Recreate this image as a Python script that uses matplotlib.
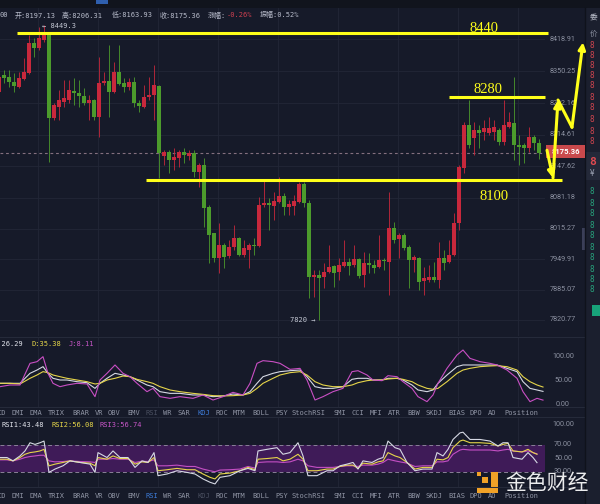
import matplotlib
matplotlib.use("Agg")
import numpy as np
import matplotlib.pyplot as plt
from matplotlib.patches import Rectangle

# candles, left to right (red = up, green = down)
opens = [8306, 8342, 8338, 8327, 8317, 8334, 8346, 8410, 8400, 8417,
         8432, 8251, 8274, 8285, 8289, 8308, 8304, 8298, 8283, 8289,
         8253, 8325, 8330, 8306, 8349, 8325, 8317, 8327, 8283, 8274,
         8295, 8300, 8319, 8170, 8178, 8161, 8166, 8178, 8170, 8176,
         8136, 8151, 8061, 8006, 7953, 7980, 7957, 7976, 7995, 7959,
         7970, 7980, 7978, 8065, 8070, 8063, 8072, 8085, 8061, 8063,
         8072, 8110, 8070, 7912, 7916, 7912, 7923, 7935, 7923, 7935,
         7944, 7938, 7950, 7916, 7942, 7938, 7933, 7948, 7944, 8016,
         7993, 8002, 7976, 7948, 7953, 7904, 7906, 7912, 7906, 7953,
         7944, 7959, 8027, 8144, 8236, 8208, 8225, 8221, 8219, 8221,
         8225, 8200, 8231, 8240, 8193, 8193, 8187, 8210, 8197.13]
highs = [8342, 8353, 8353, 8346, 8349, 8378, 8427, 8421, 8445, 8449.3,
         8434, 8283, 8310, 8332, 8332, 8336, 8332, 8315, 8300, 8291,
         8381, 8349, 8406, 8370, 8406, 8336, 8336, 8338, 8289, 8321,
         8338, 8363, 8321, 8183, 8183, 8187, 8183, 8187, 8183, 8183,
         8155, 8166, 8065, 8006, 8027, 7984, 7991, 8023, 7997, 7991,
         7984, 7995, 8082, 8119, 8080, 8093, 8125, 8091, 8076, 8087,
         8114, 8114, 8076, 7927, 7927, 7942, 7980, 7938, 7953, 7991,
         7953, 7980, 7953, 7965, 7963, 7948, 8002, 7953, 8093, 8029,
         8006, 8006, 7980, 7959, 7955, 7933, 7938, 7944, 7987, 7970,
         7991, 8048, 8151, 8242, 8289, 8242, 8236, 8246, 8253, 8246,
         8229, 8289, 8263, 8338, 8214, 8197, 8231, 8214, 8206.31]
lows = [8300, 8325, 8317, 8306, 8315, 8332, 8344, 8381, 8395, 8412,
        8157, 8246, 8246, 8274, 8283, 8278, 8274, 8278, 8246, 8246,
        8211, 8321, 8253, 8304, 8321, 8306, 8310, 8274, 8263, 8272,
        8289, 8246, 8123, 8151, 8134, 8140, 8146, 8155, 8161, 8125,
        8104, 8019, 7942, 7944, 7921, 7931, 7953, 7970, 7957, 7955,
        7931, 7959, 7976, 8061, 8012, 8033, 8070, 8044, 8044, 8044,
        8070, 8061, 7867, 7869, 7820, 7889, 7921, 7891, 7906, 7933,
        7916, 7933, 7910, 7891, 7921, 7921, 7931, 7927, 7874, 7984,
        7953, 7970, 7889, 7923, 7884, 7874, 7901, 7901, 7889, 7927,
        7942, 7957, 8012, 8134, 8187, 8172, 8187, 8204, 8214, 8204,
        8193, 8193, 8229, 8161, 8151, 8155, 8178, 8183, 8163.93]
closes = [8338, 8336, 8327, 8319, 8336, 8349, 8410, 8400, 8421, 8427,
          8251, 8278, 8289, 8293, 8310, 8304, 8298, 8283, 8289, 8253,
          8325, 8330, 8306, 8349, 8323, 8317, 8327, 8283, 8276, 8295,
          8300, 8321, 8176, 8178, 8161, 8168, 8178, 8172, 8176, 8136,
          8151, 8059, 8002, 7953, 7980, 7955, 7976, 7995, 7959, 7974,
          7980, 7978, 8065, 8070, 8065, 8074, 8085, 8061, 8068, 8074,
          8110, 8070, 7912, 7916, 7910, 7923, 7933, 7921, 7938, 7944,
          7935, 7950, 7914, 7942, 7938, 7931, 7948, 7946, 8016, 7991,
          8002, 7974, 7948, 7955, 7901, 7910, 7912, 7906, 7953, 7942,
          7959, 8027, 8146, 8236, 8193, 8225, 8219, 8229, 8229, 8231,
          8200, 8236, 8242, 8193, 8189, 8187, 8210, 8197, 8175.36]

price_ticks = [8418.91, 8350.25, 8282.16, 8214.61, 8147.62,
               8081.18, 8015.27, 7949.91, 7885.07, 7820.77]

# hand drawn yellow levels
level_values = [8432, 8295, 8118]
level_labels = ["8440", "8280", "8100"]
level_start = [3.6, 90.0, 29.4]
level_end = [109.8, 109.2, 112.6]
level_text_x = [97.0, 97.8, 99.1]
level_text_y = [8434, 8304, 8076]

# zigzag arrow drawn right of the candles (bar index, price)
arrow_x = [109.6, 110.8, 111.8, 114.6, 116.8]
arrow_y = [8182, 8123, 8289, 8231, 8412]

# KDJ panel
kdj_x = [0.2, 2.2, 4.2, 6.2, 7.6, 8.8, 9.8, 10.8, 12.2, 13.6, 15.6, 17.6, 19.2, 20.2,
         21.6, 23.2, 24.8, 26.2, 27.6, 29.6, 30.8, 32.2, 34.2, 36.2, 38.8, 40.8, 42.8,
         44.8, 46.8, 48.8, 50.2, 51.6, 52.8, 54.8, 56.2, 58.2, 60.2, 61.6, 63.2, 64.8,
         66.8, 68.8, 70.6, 71.8, 73.6, 74.8, 76.6, 77.8, 79.6, 80.8, 82.6, 83.8, 85.6,
         86.8, 87.8, 89.6, 91.6, 92.8, 94.2, 96.2, 98.2, 99.6, 101.6, 103.6, 104.8,
         106.2, 107.6, 108.8]
k_vals = [43.1, 43.1, 43.1, 63.9, 70.8, 77.8, 63.9, 53.5, 50.0, 50.0,
          46.5, 44.4, 32.6, 43.1, 53.5, 63.9, 60.4, 56.9, 50.0, 39.6,
          36.1, 25.7, 22.2, 22.2, 18.8, 18.8, 15.3, 16.7, 20.8, 18.8,
          25.7, 43.1, 56.9, 63.9, 67.4, 69.4, 70.8, 56.9, 36.1, 32.6,
          32.6, 36.1, 51.4, 53.5, 53.5, 50.0, 50.0, 53.5, 53.5, 50.0,
          39.6, 29.2, 25.7, 29.2, 43.1, 60.4, 77.8, 81.3, 81.3, 81.3,
          81.3, 81.3, 74.3, 67.4, 46.5, 32.6, 29.2, 26.29]
d_vals = [43.1, 43.1, 41.7, 53.5, 60.4, 67.4, 65.3, 60.4, 56.9, 53.5,
          50.0, 46.5, 41.7, 43.1, 50.0, 53.5, 58.3, 56.9, 51.4, 46.5,
          43.1, 36.1, 29.2, 25.7, 22.2, 20.1, 17.4, 16.7, 17.4, 18.8,
          22.2, 32.6, 43.1, 53.5, 60.4, 65.3, 67.4, 60.4, 46.5, 39.6,
          36.1, 36.1, 39.6, 44.4, 48.6, 50.0, 50.0, 52.1, 53.5, 51.4,
          46.5, 39.6, 32.6, 30.6, 32.6, 46.5, 63.9, 70.8, 74.3, 77.8,
          79.2, 79.9, 77.8, 70.8, 56.9, 46.5, 39.6, 35.38]
j_vals = [36.1, 39.6, 39.6, 84.7, 88.2, 98.6, 63.9, 43.1, 36.1, 39.6,
          43.1, 41.7, 15.3, 50.0, 63.9, 81.3, 63.9, 56.9, 43.1, 25.7,
          32.6, 15.3, 11.8, 15.3, 11.8, 18.8, 8.3, 15.3, 24.3, 18.8,
          43.1, 84.7, 90.3, 88.2, 84.7, 72.2, 74.3, 50.0, 8.3, 15.3,
          25.7, 32.6, 67.4, 69.4, 60.4, 50.0, 48.6, 59.0, 56.9, 46.5,
          32.6, 15.3, 4.9, 18.8, 43.1, 74.3, 102.1, 112.5, 95.1, 88.2,
          84.7, 81.3, 70.8, 53.5, 25.7, 4.9, 11.8, 8.11]

# RSI panel
rsi_x = [0.2, 1.6, 2.8, 4.2, 5.2, 6.2, 7.2, 8.2, 9.0, 10.0, 11.2, 12.8, 14.2, 16.2,
         18.2, 19.2, 19.8, 21.6, 22.8, 24.2, 25.8, 27.2, 28.6, 29.8, 31.0, 31.8, 33.6,
         35.6, 37.6, 39.2, 40.8, 42.2, 43.2, 44.2, 46.2, 48.2, 49.8, 51.2, 51.8, 53.6,
         55.6, 56.8, 58.2, 59.8, 60.8, 61.8, 63.6, 65.6, 66.8, 68.2, 69.6, 70.8, 71.8,
         72.8, 74.6, 75.8, 76.8, 77.8, 79.2, 80.2, 81.6, 83.2, 84.8, 86.6, 87.6, 88.8,
         89.8, 90.8, 92.2, 92.8, 94.2, 96.2, 98.2, 99.8, 100.8, 101.8, 102.8, 104.6,
         105.8, 106.8, 107.6]
rsi1 = [51.2, 51.2, 46.2, 53.6, 61.1, 73.4, 70.9, 73.4, 75.9, 28.9,
        33.9, 38.8, 46.2, 43.8, 41.3, 28.9, 58.6, 51.2, 61.1, 51.2,
        51.2, 36.4, 46.2, 43.8, 58.6, 24.0, 26.5, 31.4, 28.9, 26.5,
        19.1, 14.1, 11.6, 21.5, 24.0, 31.4, 34.9, 31.4, 61.1, 63.5,
        66.0, 56.1, 58.6, 73.4,
        53.6, 24.0, 24.0, 31.4, 31.4, 38.8, 41.3, 43.8, 33.9, 46.2,
        43.8, 48.7, 51.2, 75.9, 66.0, 63.5, 43.8, 31.4, 33.9, 33.9,
        58.6, 53.6, 63.5, 78.3, 88.2, 89.2, 78.3, 78.3, 75.9, 68.5,
        73.4, 73.4, 51.2, 48.7, 58.6, 51.2, 43.48]
rsi2 = [48.7, 48.7, 46.2, 51.2, 56.1, 58.6, 59.6, 61.1, 63.5, 38.8,
        41.3, 43.8, 46.2, 43.8, 42.8, 38.8, 51.2, 48.7, 53.6, 49.7,
        49.7, 41.3, 44.7, 43.8, 51.2, 31.4, 32.9, 34.9, 32.9, 32.9,
        26.5, 21.5, 19.1, 26.5, 27.9, 31.4, 36.4, 32.9, 48.7, 49.7,
        51.2, 46.2, 48.7, 56.1,
        48.7, 31.4, 31.4, 33.9, 33.9, 37.8, 39.8, 39.8, 34.9, 42.8,
        41.3, 44.7, 46.2, 58.6, 53.6, 51.2, 43.8, 33.9, 36.4, 36.4,
        48.7, 47.7, 51.2, 66.0, 75.9, 77.4, 73.4, 73.4, 72.4, 68.5,
        70.9, 72.4, 61.1, 59.6, 63.5, 58.6, 56.08]
rsi3 = [47.7, 47.7, 46.2, 48.7, 51.2, 52.7, 53.6, 54.6, 54.6, 46.2,
        44.7, 45.2, 46.2, 45.2, 44.7, 43.8, 48.7, 48.7, 49.7, 48.7,
        48.7, 43.8, 45.7, 45.2, 47.7, 38.8, 38.8, 39.8, 37.8, 37.8,
        33.9, 31.4, 29.9, 32.4, 32.9, 33.9, 37.8, 35.4, 43.8, 44.7,
        44.7, 43.8, 44.7, 48.7,
        46.2, 38.8, 36.4, 36.4, 36.4, 37.8, 38.8, 38.8, 37.8, 39.8,
        39.8, 41.3, 43.8, 48.7, 46.2, 44.7, 42.8, 37.8, 38.8, 38.8,
        44.7, 44.7, 46.2, 56.1, 62.5, 63.5, 62.5, 62.5, 62.5, 61.1,
        62.5, 63.5, 61.1, 59.6, 61.1, 58.6, 56.74]

tab_names = ["CD", "DMI", "DMA", "TRIX", "BRAR", "VR", "OBV", "EMV", "RSI", "WR", "SAR",
             "KDJ", "ROC", "MTM", "BOLL", "PSY", "StochRSI", "SMI", "CCI", "MFI", "ATR",
             "BBW", "SKDJ", "BIAS", "DPO", "AO", "Position"]
tab_x = [-3, 12, 30, 48, 72, 95, 108, 127, 146, 163, 178, 197, 215, 233, 252, 275,
         292, 333, 352, 370, 388, 407, 425, 448, 470, 488, 504]

BG = "#161a29"
GRID = "#222737"
RED = "#c8283c"
GREEN = "#4c9b2c"
YEL = "#ffff1a"
AXIS_TXT = "#8c91a1"
MONO = "DejaVu Sans Mono"
CJK = ["DejaVu Sans Mono", "Noto Sans CJK SC"]


def fx(x):
    return x / 600


def fy(y):
    return 1 - y / 504


fig = plt.figure(figsize=(6, 5.04), dpi=100)
fig.patch.set_facecolor(BG)

grid_x = [7.8 + 12 * k for k in range(9)]


def panel(top, bottom):
    a = fig.add_axes([0, fy(bottom), 545 / 600, (bottom - top) / 504])
    a.set_facecolor(BG)
    a.set_xlim(0.2, 109.2)
    for s in a.spines.values():
        s.set_visible(False)
    a.set_xticks([])
    a.set_yticks([])
    for gx in grid_x:
        a.axvline(gx, color=GRID, lw=0.6, zorder=0)
    return a


def right_labels(a, vals, fmt):
    for v in vals:
        a.text(1.033, v, fmt.format(v), transform=a.get_yaxis_transform(),
               ha="center", va="center", fontsize=5.2, color=AXIS_TXT, family="Roboto")


# ---- main candle chart
ax = panel(8, 336)
ax.set_ylim(7786.4, 8485)
for t in price_ticks:
    ax.axhline(t, color=GRID, lw=0.6, zorder=0)
right_labels(ax, price_ticks, "{:.2f}")

o = np.array(opens, float)
c = np.array(closes, float)
idx = np.arange(len(o))
cols = np.where(c >= o, RED, GREEN)
ax.vlines(idx, lows, highs, colors=cols, lw=0.6, zorder=2)
ax.bar(idx, np.maximum(np.abs(c - o), 1.6), bottom=np.minimum(o, c), width=0.72,
       color=cols, linewidth=0, zorder=3)

ax.axhline(closes[-1], color="#84707f", lw=0.8, ls=(0, (2.5, 2.5)), zorder=1)

for v, lab, s, e, tx, ty in zip(level_values, level_labels, level_start, level_end,
                                level_text_x, level_text_y):
    ax.hlines(v, s, e, color=YEL, lw=2.2, clip_on=False, zorder=6)
    ax.text(tx, ty, lab, ha="center", va="baseline", fontsize=10.5, color=YEL,
            family="Liberation Serif", zorder=6)

ax.text(8.6, 8447, "\u2190 8449.3", ha="left", va="center", fontsize=5, color="#c3c7d3",
        family=MONO)
ax.text(63.2, 7820, "7820 \u2192", ha="right", va="center", fontsize=5, color="#c3c7d3",
        family=MONO)

# ---- KDJ panel
ax2 = panel(337, 407)
ax2.set_ylim(-6.25, 139.6)
ax2.plot(kdj_x, k_vals, color="#d6d9e4", lw=0.8)
ax2.plot(kdj_x, d_vals, color="#e6d54a", lw=0.8)
ax2.plot(kdj_x, j_vals, color="#c94fc4", lw=0.8)
right_labels(ax2, [100, 50, 0], "{:.2f}")

# ---- RSI panel
ax3 = panel(417, 487)
ax3.set_ylim(7.0, 112.0)
ax3.axhspan(30, 70, color="#3f1b58", lw=0, zorder=0.5)
ax3.axhline(70, color="#8a8198", lw=0.7, ls=(0, (4, 3)), zorder=1)
ax3.axhline(30, color="#8a8198", lw=0.7, ls=(0, (4, 3)), zorder=1)
ax3.plot(rsi_x, rsi3, color="#c44fc4", lw=0.8)
ax3.plot(rsi_x, rsi2, color="#e6d54a", lw=0.8)
ax3.plot(rsi_x, rsi1, color="#d6d9e4", lw=0.8)
right_labels(ax3, [100, 70, 50, 30], "{:.2f}")

# ---- overlay for chrome
ov = fig.add_axes([0, 0, 1, 1], facecolor="none")
ov.set_xlim(0, 600)
ov.set_ylim(504, 0)
ov.axis("off")

ov.add_patch(Rectangle((0, 0), 600, 8, color="#11141d", lw=0))
ov.add_patch(Rectangle((96, 0), 12, 4, color="#2f5fae", lw=0))
for yy in [337, 407, 417, 487]:
    ov.plot([0, 585], [yy, yy], color="#262b3b", lw=0.7)

# right order-book strip (mostly cut off by the screenshot edge)
ov.add_patch(Rectangle((585, 8), 15, 496, color="#1b1f2e", lw=0))
ov.plot([585, 585], [8, 504], color="#0f121b", lw=1)
ov.add_patch(Rectangle((586, 152), 14, 28, color="#242939", lw=0))
ov.add_patch(Rectangle((582, 228), 4, 22, color="#3b3f58", lw=0))
ov.text(590, 17, "\u59d4", fontsize=5.5, color="#b8bcc8", va="center", family=CJK)
ov.text(590, 33, "\u4ef7", fontsize=5.5, color="#8c91a1", va="center", family=CJK)
for yy in [45, 55, 66, 76, 86, 98, 108, 120, 132, 142]:
    ov.text(590, yy, "8", fontsize=5.5, color="#d0454f", va="center", family=MONO)
ov.text(589, 162, "8", fontsize=8, color="#e04a50", va="center", weight="bold",
        family=MONO)
ov.text(590, 174, "\u00a5", fontsize=5.5, color="#9aa0b0", va="center", family=MONO)
for yy in [192, 203, 214, 225, 236, 247, 258, 269, 280, 290]:
    ov.text(590, yy, "8", fontsize=5.5, color="#27a37c", va="center", family=MONO)
ov.add_patch(Rectangle((592, 305), 8, 11, color="#18a37a", lw=0))

# current price tag
ov.add_patch(Rectangle((546, 145), 39, 13, color="#c9494c", lw=0, zorder=4))
ov.text(566, 151.5, "8175.36", ha="center", va="center", fontsize=5.5, color="white",
        weight="bold", family="Roboto", zorder=5)

# header line
ov.text(0, 15, "00", fontsize=5, color="#b8bccb", va="center", family=CJK)
for xx, s in [(15, "\u5f00:8197.13"), (62, "\u9ad8:8206.31"), (112, "\u4f4e:8163.93"),
              (160, "\u6536:8175.36"), (208, "\u6da8\u5e45:"), (260, "\u632f\u5e45:0.52%")]:
    ov.text(xx, 15, s, fontsize=5, color="#b8bccb", va="center", family=CJK)
ov.text(227, 15, "-0.26%", fontsize=5, color="#d04050", va="center", family=MONO)

# indicator captions
ov.text(23, 344, "K:26.29", ha="right", fontsize=5, color="#e2e4ec", va="center", family=MONO)
ov.text(31, 344, "D:35.38", fontsize=5, color="#e8d84a", va="center", family=MONO)
ov.text(69, 344, "J:8.11", fontsize=5, color="#c856c8", va="center", family=MONO)
ov.text(2, 425, "RSI1:43.48", fontsize=5, color="#e2e4ec", va="center", family=MONO)
ov.text(52, 425, "RSI2:56.08", fontsize=5, color="#e8d84a", va="center", family=MONO)
ov.text(100, 425, "RSI3:56.74", fontsize=5, color="#c856c8", va="center", family=MONO)

# indicator tab rows
for row_y, active, dim in [(413, "KDJ", "RSI"), (496, "RSI", "KDJ")]:
    for name, xx in zip(tab_names, tab_x):
        col = "#9095a5"
        if name == active:
            col = "#3d7bd8"
        elif name == dim:
            col = "#4a4f60"
        ov.text(xx, row_y, name, fontsize=5, color=col, va="center", family=MONO)

# yellow zigzag arrows
ov_pts = [ax.transData.transform((x, y)) for x, y in zip(arrow_x, arrow_y)]
inv = ov.transData.inverted()
pts = [inv.transform(p) for p in ov_pts]
for k in range(len(pts) - 1):
    head = k in (0, 1, 3)
    ov.annotate("", xy=pts[k + 1], xytext=pts[k],
                arrowprops=dict(arrowstyle="-|>" if head else "-", color=YEL, lw=2.2,
                                mutation_scale=10, shrinkA=0, shrinkB=0),
                annotation_clip=False, zorder=7)

# watermark
ov.add_patch(Rectangle((491, 472), 7, 21, color="#f2a227", lw=0))
ov.add_patch(Rectangle((477, 487), 21, 6, color="#f2a227", lw=0))
ov.add_patch(Rectangle((482, 477), 6, 6, color="#f2a227", lw=0))
ov.add_patch(Rectangle((477, 472), 4, 4, color="#f2a227", lw=0))
ov.text(505, 483, "\u91d1\u8272\u8d22\u7ecf", fontsize=15, color="white", alpha=0.92,
        va="center", family=["Noto Sans CJK SC", "DejaVu Sans"])

fig.savefig("out.png", dpi=100, facecolor=BG)
